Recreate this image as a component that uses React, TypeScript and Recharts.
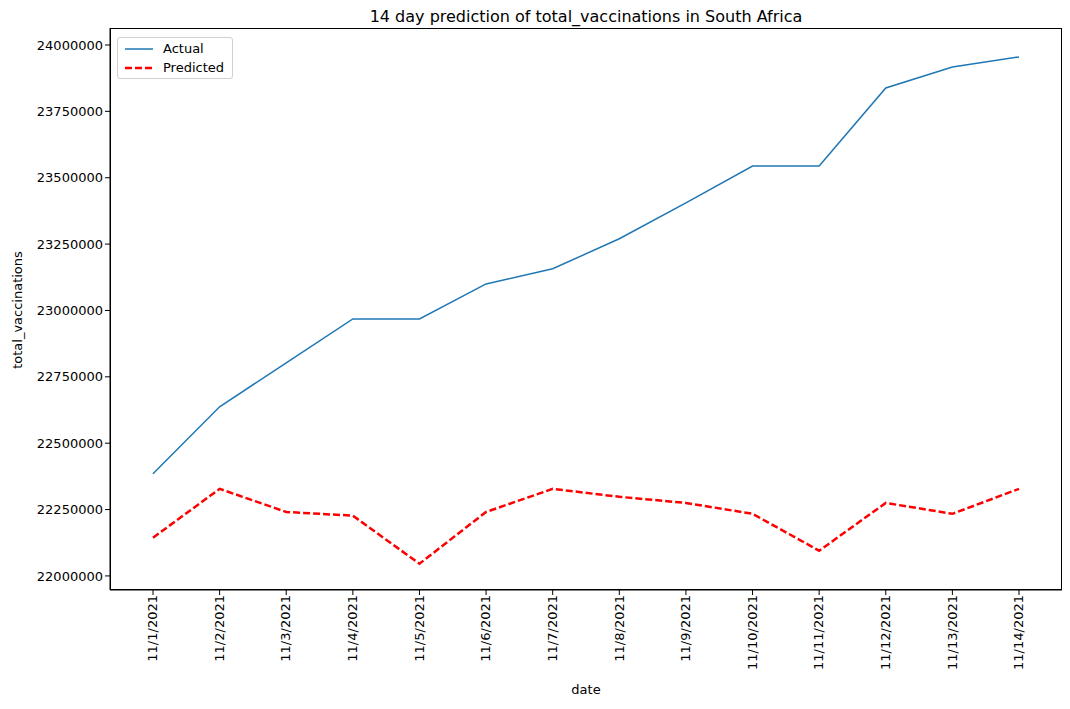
import { LineChart, Line, XAxis, YAxis } from 'recharts';

const dates = ['11/1/2021','11/2/2021','11/3/2021','11/4/2021','11/5/2021','11/6/2021','11/7/2021','11/8/2021','11/9/2021','11/10/2021','11/11/2021','11/12/2021','11/13/2021','11/14/2021'];
const actual = [22385000,22637000,22803000,22968000,22968000,23100000,23157000,23270000,23405000,23544000,23544000,23838000,23917000,23955000];
const predicted = [22144000,22328000,22241000,22227000,22046000,22241000,22328000,22298000,22275000,22234000,22095000,22275000,22234000,22328000];
const yTicks = [22000000,22250000,22500000,22750000,23000000,23250000,23500000,23750000,24000000];

const data = dates.map((d, i) => ({ date: d, actual: actual[i], predicted: predicted[i] }));
const font = 'DejaVu Sans, sans-serif';

export default function App() {
  return (
    <div style={{ position: 'absolute', left: 0, top: 0, width: 1070, height: 709, background: '#fff', fontFamily: font }}>
      <div style={{ position: 'absolute', left: 110, width: 952, top: 7, textAlign: 'center', fontSize: 16 }}>
        14 day prediction of total_vaccinations in South Africa
      </div>
      <div style={{ position: 'absolute', left: 110, width: 952, top: 682, textAlign: 'center', fontSize: 13 }}>date</div>
      <div style={{ position: 'absolute', left: 17, top: 310, fontSize: 13, transform: 'translate(-50%, -50%) rotate(-90deg)', whiteSpace: 'nowrap' }}>total_vaccinations</div>
      <LineChart width={1070} height={709} data={data} margin={{ top: 28, right: 8, bottom: 39, left: 10 }}>
        <XAxis dataKey="date" interval={0} padding={{ left: 43, right: 43 }} angle={-90} textAnchor="end" dx={-5} dy={-2} height={80}
          tick={{ fill: '#000', fontSize: 13, fontFamily: font }} stroke="#000" tickSize={5} />
        <YAxis domain={[21947000, 24064000]} ticks={yTicks} width={100} allowDataOverflow interval={0}
          tick={{ fill: '#000', fontSize: 13, fontFamily: font }} stroke="#000" tickSize={5} />
        <Line type="linear" dataKey="actual" stroke="#1f77b4" strokeWidth={1.5} dot={false} isAnimationActive={false} />
        <Line type="linear" dataKey="predicted" stroke="red" strokeWidth={2.5} strokeDasharray="7 3" dot={false} isAnimationActive={false} />
      </LineChart>
      <div style={{ position: 'absolute', left: 110, top: 28, width: 952, height: 562, border: '1px solid #000', boxSizing: 'border-box', pointerEvents: 'none' }} />
      <div style={{ position: 'absolute', left: 117, top: 37, border: '1px solid #d0d0d0', borderRadius: 3, background: '#fff', padding: '3px 7px', fontSize: 13, width: 100 }}>
        <div style={{ display: 'flex', alignItems: 'center', marginBottom: 4 }}>
          <svg width={30} height={10}><line x1={0} y1={5} x2={28} y2={5} stroke="#1f77b4" strokeWidth={1.5} /></svg>
          <span style={{ marginLeft: 8 }}>Actual</span>
        </div>
        <div style={{ display: 'flex', alignItems: 'center' }}>
          <svg width={30} height={10}><line x1={0} y1={5} x2={28} y2={5} stroke="red" strokeWidth={2.5} strokeDasharray="7 3" /></svg>
          <span style={{ marginLeft: 8 }}>Predicted</span>
        </div>
      </div>
    </div>
  );
}
